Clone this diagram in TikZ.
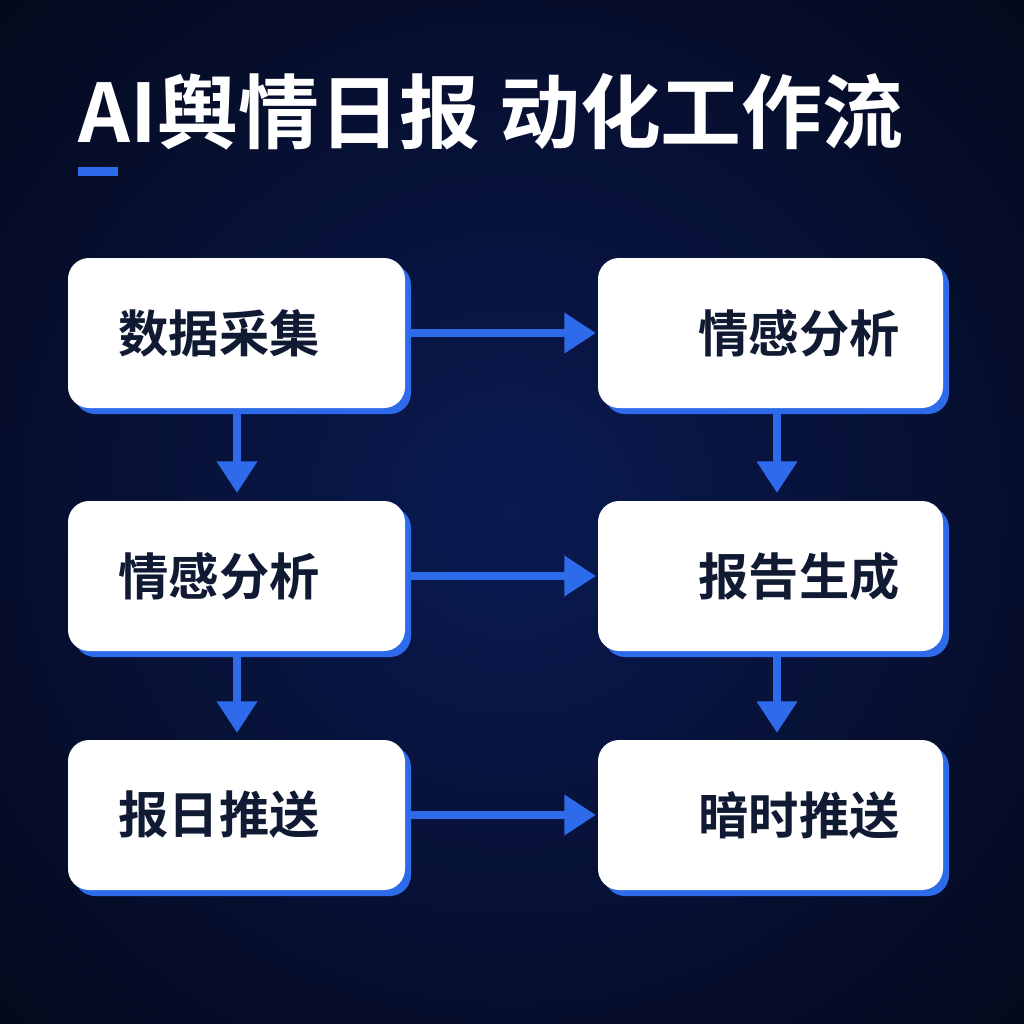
\documentclass[tikz,border=0pt]{standalone}
\usepackage{fontspec}
\newfontfamily\cjk{Noto Sans CJK SC}[BoldFont={Noto Sans CJK SC Bold}]
\usetikzlibrary{arrows.meta}
\definecolor{bgc}{HTML}{0A1A52}
\definecolor{bge}{HTML}{040716}
\definecolor{accent}{HTML}{2E6BEA}
\definecolor{ink}{HTML}{111A33}
\begin{document}
\begin{tikzpicture}[x=0.01cm,y=-0.01cm,
  flow/.style={draw=accent,line width=2.3pt,-{Triangle[length=9pt,width=11pt]}},
  lbl/.style={font=\cjk\bfseries\fontsize{14.3}{16}\selectfont,text=ink,anchor=west,inner sep=0pt}]
\useasboundingbox (0,0) rectangle (1024,1024);
\shade[inner color=bgc,outer color=bge] (-300,-300) rectangle (1324,1324);
\node[font=\cjk\bfseries\fontsize{23}{26}\selectfont,text=white,anchor=west,inner sep=0pt] (title) at (78,112) {AI舆情日报 动化工作流};
\fill[accent] (78,167) rectangle (118,176);
\foreach \x/\y/\w in {68/258/337,68/501/337,68/740/337,598/258/345,598/501/345,598/740/345}{
  \fill[accent,rounded corners=6pt] (\x+6,\y+6) rectangle (\x+\w+6,\y+156);
  \fill[white,rounded corners=6pt] (\x,\y) rectangle (\x+\w,\y+150);
}
\node[lbl] (ta) at (118,333) {数据采集};
\node[lbl] (tb) at (118,576) {情感分析};
\node[lbl] (tc) at (118,815) {报日推送};
\node[lbl] (td) at (698,333) {情感分析};
\node[lbl] (te) at (698,576) {报告生成};
\node[lbl] (tf) at (698,815) {暗时推送};
\coordinate (ar) at (408,333); \coordinate (dl) at (596,333);
\coordinate (br) at (408,576); \coordinate (el) at (596,576);
\coordinate (cr) at (408,815); \coordinate (fl) at (596,815);
\coordinate (ab) at (237,412); \coordinate (bt) at (237,493);
\coordinate (bb) at (237,655); \coordinate (ct) at (237,733);
\coordinate (db) at (777,412); \coordinate (et) at (777,493);
\coordinate (eb) at (777,655); \coordinate (ft) at (777,733);
\draw[flow] (ar) -- (dl);
\draw[flow] (br) -- (el);
\draw[flow] (cr) -- (fl);
\draw[flow] (ab) -- (bt);
\draw[flow] (bb) -- (ct);
\draw[flow] (db) -- (et);
\draw[flow] (eb) -- (ft);
\end{tikzpicture}
\end{document}
